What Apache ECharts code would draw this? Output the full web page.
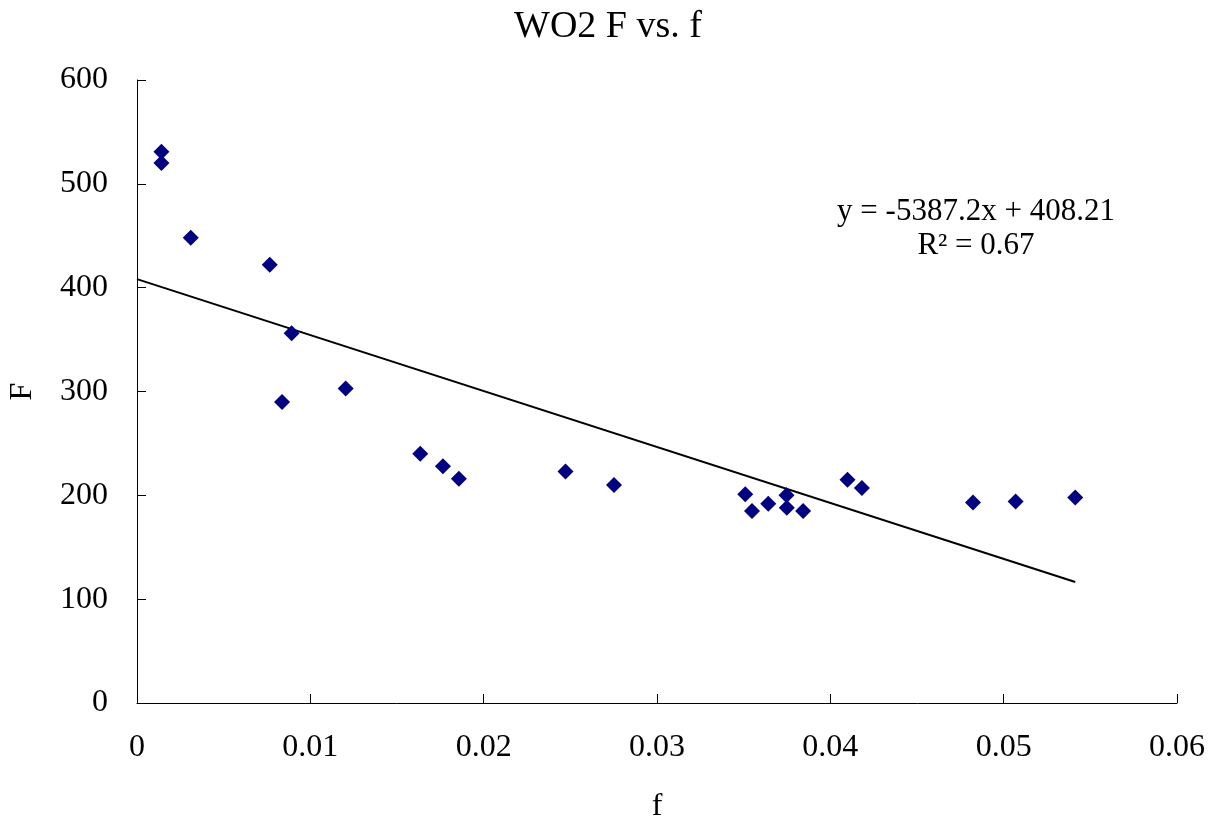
<!DOCTYPE html>
<html><head><meta charset="utf-8">
<script src="https://cdn.jsdelivr.net/npm/echarts@6/dist/echarts.min.js"></script>
<style>html,body{margin:0;padding:0;background:#fff}#c{width:1216px;height:819px}</style>
</head><body><div id="c"></div>
<script>
const fValues = [0.00141, 0.00141, 0.0031, 0.00766, 0.00892, 0.00837, 0.01204, 0.01634, 0.01765, 0.01857, 0.02472, 0.02752, 0.03509, 0.03548, 0.03642, 0.03747, 0.03749, 0.03843, 0.04099, 0.04182, 0.04823, 0.05069, 0.05413];
const FValues = [531, 520, 448, 422, 356, 290, 303, 240, 228, 216, 223, 210, 201, 185, 192, 200, 188, 185, 215, 207, 193, 194, 198];
const slope = -5387.2;
const intercept = 408.21;
const r2Text = 'R² = 0.67';
const eqText = 'y = -5387.2x + 408.21';
const titleText = 'WO2 F vs. f';

const pts = fValues.map((x, i) => [x, FValues[i]]);
const xMax = Math.max(...fValues);
const trend = [[0, intercept], [xMax, slope * xMax + intercept]];
const font = 'Liberation Serif';

const chart = echarts.init(document.getElementById('c'));
chart.setOption({
  animation: false,
  backgroundColor: '#fff',
  title: { text: titleText, left: 603, top: 3, textAlign: 'center',
    textStyle: { fontFamily: font, fontSize: 38, fontWeight: 'normal', color: '#000' } },
  grid: { left: 137, right: 39, top: 80, bottom: 116, containLabel: false, outerBoundsMode: 'none' },
  xAxis: { type: 'value', min: 0, max: 0.06, interval: 0.01,
    name: 'f', nameLocation: 'middle', nameGap: 88,
    nameTextStyle: { fontFamily: font, fontSize: 32, color: '#000' },
    axisLine: { lineStyle: { color: '#000', width: 1 } },
    axisTick: { inside: true, length: 9, lineStyle: { color: '#000' } },
    axisLabel: { fontFamily: font, fontSize: 32, color: '#000', margin: 29 },
    splitLine: { show: false } },
  yAxis: { type: 'value', min: 0, max: 600, interval: 100,
    name: 'F', nameLocation: 'middle', nameGap: 98, nameRotate: 90,
    nameTextStyle: { fontFamily: font, fontSize: 32, color: '#000' },
    axisLine: { show: true, lineStyle: { color: '#000', width: 1 } },
    axisTick: { show: true, inside: true, length: 9, lineStyle: { color: '#000' } },
    axisLabel: { fontFamily: font, fontSize: 32, color: '#000', margin: 29 },
    splitLine: { show: false } },
  graphic: [
    { type: 'text', x: 976, y: 212, style: { text: eqText, fontFamily: font, fontSize: 31, fill: '#000', align: 'center', verticalAlign: 'middle' } },
    { type: 'text', x: 976, y: 246, style: { text: r2Text, fontFamily: font, fontSize: 31, fill: '#000', align: 'center', verticalAlign: 'middle' } }
  ],
  series: [
    { type: 'line', data: trend, symbol: 'none', lineStyle: { color: '#000', width: 2 }, z: 1 },
    { type: 'scatter', data: pts, symbol: 'diamond', symbolSize: [16, 16], itemStyle: { color: '#000080', opacity: 1 }, z: 2 }
  ]
});
</script></body></html>
